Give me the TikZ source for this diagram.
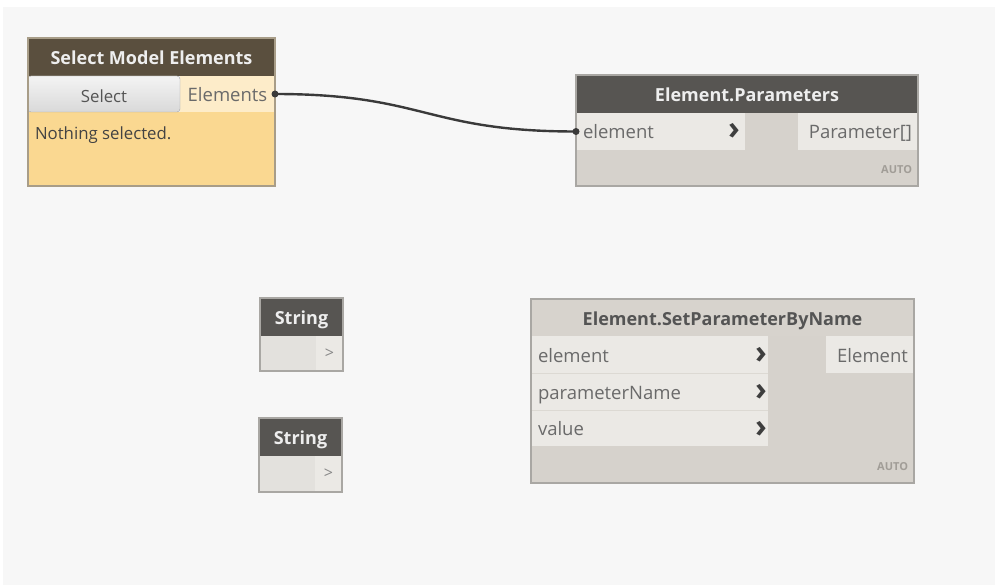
\documentclass[tikz,border=0pt]{standalone}
\usepackage{fontspec}
\setmainfont{Open Sans}
\usetikzlibrary{positioning}

\definecolor{canvas}{HTML}{F7F7F7}
\definecolor{brownhead}{HTML}{5A4F3E}
\definecolor{darkhead}{HTML}{575552}
\definecolor{lighthead}{HTML}{D7D3CD}
\definecolor{headtext}{HTML}{EEEEEE}
\definecolor{darktext}{HTML}{545454}
\definecolor{orangebody}{HTML}{FAD891}
\definecolor{creamport}{HTML}{FDECC9}
\definecolor{graybody}{HTML}{D6D2CC}
\definecolor{portfill}{HTML}{EBE9E5}
\definecolor{strbody}{HTML}{E3E1DD}
\definecolor{porttext}{HTML}{6A6A6A}
\definecolor{chevron}{HTML}{3E3E3E}
\definecolor{wirecol}{HTML}{3A3A3A}
\definecolor{framecol}{HTML}{A9A7A3}
\definecolor{selframe}{HTML}{A89D88}
\definecolor{btntop}{HTML}{F4F4F4}
\definecolor{btnbot}{HTML}{D9D9D9}
\definecolor{btnborder}{HTML}{A3A3A3}
\definecolor{autotext}{HTML}{A19D97}

\begin{document}
\begin{tikzpicture}[x=1pt, y=-1pt,
  every node/.style={inner sep=0pt, outer sep=0pt},
  part/.style={rectangle, anchor=north west},
  head/.style={part, font=\fontsize{18}{20}\selectfont\bfseries, text=headtext, text height=16.5pt, text depth=1.5pt},
  port/.style={part, fill=portfill, inner xsep=7pt, font=\fontsize{18.5}{20}\selectfont, text=porttext, text height=17pt, text depth=2pt},
  chev/.style={font=\fontsize{32}{34}\selectfont\bfseries, text=chevron},
  autotag/.style={anchor=east, font=\fontsize{11}{12}\selectfont\bfseries, text=autotext},
  frame/.style={draw=framecol, line width=1.2pt},
  wire/.style={draw=wirecol, line width=2.4pt}
]

% canvas
\useasboundingbox (0,0) rectangle (995,585);
\fill[canvas] (3,7) rectangle (995,585);

% Select Model Elements
\node[head, fill=brownhead, minimum width=247, minimum height=38] (selhead) at (28,38) {Select Model Elements};
\node[part, fill=orangebody, minimum width=247, minimum height=74] (selbody) at (28,112) {};
\node[port, fill=creamport, minimum width=95, minimum height=36] (selout) at (180,76) {Elements};
\node[part, rounded corners=3pt, draw=btnborder, top color=btntop, bottom color=btnbot,
  minimum width=152, minimum height=36, font=\fontsize{16.8}{18}\selectfont, text=darktext,
  text height=17pt, text depth=0pt] (selbtn) at (28,76) {Select};
\node[anchor=west, font=\fontsize{16.8}{18}\selectfont, text=darktext!80!black] (selmsg) at (35,135) {Nothing selected.};
\draw[frame, draw=selframe] (selhead.north west) rectangle (selbody.south east);

% Element.Parameters
\node[head, fill=darkhead, minimum width=342, minimum height=38] (parhead) at (576,75) {Element.Parameters};
\node[part, fill=graybody, minimum width=342, minimum height=73] (parbody) at (576,113) {};
\node[port, text width=155, minimum height=37, align=left] (parin) at (576,113) {element};
\node[chev] (parchev) at (734,131) {›};
\node[port, text width=108, minimum height=37, align=right, inner xsep=6pt, anchor=north east] (parout) at (918,113) {Parameter[]};
\node[autotag] (parauto) at (912,170) {AUTO};
\draw[frame] (parhead.north west) rectangle (parbody.south east);

% String nodes
\node[head, fill=darkhead, minimum width=83, minimum height=38] (strahead) at (260,298) {String};
\node[part, fill=strbody, minimum width=56, minimum height=35] (strabox) at (260,336) {};
\node[part, fill=portfill, minimum width=27, minimum height=35, font=\fontsize{16}{18}\selectfont, text=porttext!80] (straout) at (316,336) {>};
\draw[frame] (strahead.north west) rectangle (straout.south east);

\node[head, fill=darkhead, minimum width=83, minimum height=38] (strbhead) at (259,418) {String};
\node[part, fill=strbody, minimum width=56, minimum height=36] (strbbox) at (259,456) {};
\node[part, fill=portfill, minimum width=27, minimum height=36, font=\fontsize{16}{18}\selectfont, text=porttext!80] (strbout) at (315,456) {>};
\draw[frame] (strbhead.north west) rectangle (strbout.south east);

% Element.SetParameterByName
\node[head, fill=lighthead, text=darktext, minimum width=383, minimum height=37] (sethead) at (531,299) {Element.SetParameterByName};
\node[part, fill=graybody, minimum width=383, minimum height=147] (setbody) at (531,336) {};
\node[port, text width=223, minimum height=37, align=left] (setelem) at (531,336) {element};
\node[port, text width=223, minimum height=37, align=left] (setname) at (531,373) {parameterName};
\node[port, text width=223, minimum height=36, align=left] (setval) at (531,410) {value};
\draw[draw=graybody!70!portfill, line width=1pt] (setelem.south west) -- (setelem.south east);
\draw[draw=graybody!70!portfill, line width=1pt] (setname.south west) -- (setname.south east);
\node[chev] (setchevA) at (761,355) {›};
\node[chev] (setchevB) at (761,392) {›};
\node[chev] (setchevC) at (761,429) {›};
\node[port, text width=76, minimum height=37, align=right, inner xsep=6pt, anchor=north east] (setout) at (914,336) {Element};
\node[autotag] (setauto) at (908,467) {AUTO};
\draw[frame] (sethead.north west) rectangle (setbody.south east);

% wire
\draw[wire] (selout.east) .. controls +(150,0) and +(-150,0) .. (parin.west);
\fill[wirecol] (selout.east) circle (3.5);
\fill[wirecol] (parin.west) circle (3.5);

\end{tikzpicture}
\end{document}
